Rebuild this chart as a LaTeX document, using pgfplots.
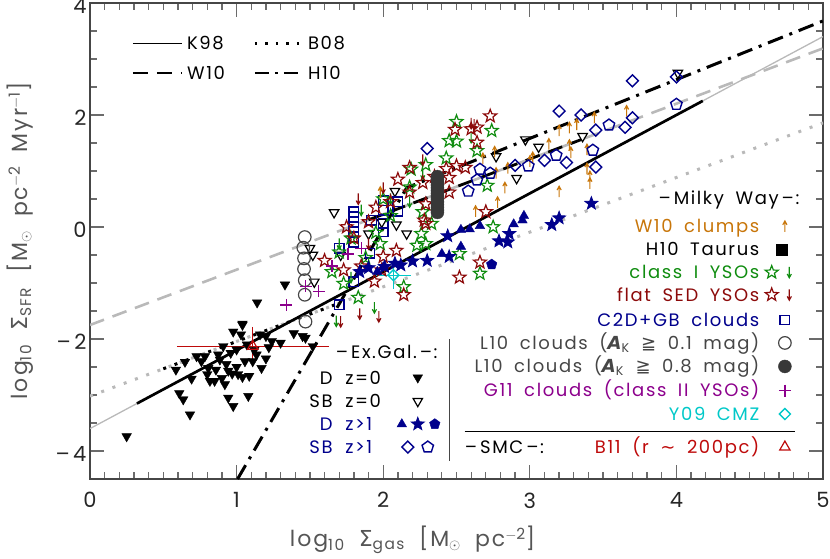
\documentclass[border=0pt]{standalone}
\usepackage{fontspec}
\setmainfont{Poppins}[LetterSpace=9, WordSpace=1.8]
\newfontfamily\dejavu{DejaVu Sans}
\usepackage{pgfplots}
\pgfplotsset{compat=1.18}
\definecolor{worange}{RGB}{200,118,10}
\definecolor{cgreen}{RGB}{15,140,15}
\definecolor{fred}{RGB}{140,10,10}
\definecolor{navy}{RGB}{0,0,140}
\definecolor{lgray}{RGB}{70,70,70}
\definecolor{gpurp}{RGB}{140,0,140}
\definecolor{ycyan}{RGB}{0,200,200}
\definecolor{bred}{RGB}{190,10,10}
\definecolor{fitgray}{RGB}{185,185,185}
\definecolor{axgray}{RGB}{70,70,70}
\definecolor{lblgray}{RGB}{85,85,85}
\newcommand{\lgf}{\fontsize{18}{21}\selectfont}
\newcommand{\tkf}{\fontsize{21}{24}\selectfont}
\newcommand{\lbf}{\fontsize{22}{25}\selectfont}
\pgfdeclareplotmark{ostar}{%
 \pgfpathmoveto{\pgfpointpolar{90}{\pgfplotmarksize}}%
 \pgfpathlineto{\pgfpointpolar{126}{0.42\pgfplotmarksize}}%
 \pgfpathlineto{\pgfpointpolar{162}{\pgfplotmarksize}}%
 \pgfpathlineto{\pgfpointpolar{198}{0.42\pgfplotmarksize}}%
 \pgfpathlineto{\pgfpointpolar{234}{\pgfplotmarksize}}%
 \pgfpathlineto{\pgfpointpolar{270}{0.42\pgfplotmarksize}}%
 \pgfpathlineto{\pgfpointpolar{306}{\pgfplotmarksize}}%
 \pgfpathlineto{\pgfpointpolar{342}{0.42\pgfplotmarksize}}%
 \pgfpathlineto{\pgfpointpolar{18}{\pgfplotmarksize}}%
 \pgfpathlineto{\pgfpointpolar{54}{0.42\pgfplotmarksize}}%
 \pgfpathclose\pgfusepathqstroke}
\pgfdeclareplotmark{fstar}{%
 \pgfpathmoveto{\pgfpointpolar{90}{\pgfplotmarksize}}%
 \pgfpathlineto{\pgfpointpolar{126}{0.42\pgfplotmarksize}}%
 \pgfpathlineto{\pgfpointpolar{162}{\pgfplotmarksize}}%
 \pgfpathlineto{\pgfpointpolar{198}{0.42\pgfplotmarksize}}%
 \pgfpathlineto{\pgfpointpolar{234}{\pgfplotmarksize}}%
 \pgfpathlineto{\pgfpointpolar{270}{0.42\pgfplotmarksize}}%
 \pgfpathlineto{\pgfpointpolar{306}{\pgfplotmarksize}}%
 \pgfpathlineto{\pgfpointpolar{342}{0.42\pgfplotmarksize}}%
 \pgfpathlineto{\pgfpointpolar{18}{\pgfplotmarksize}}%
 \pgfpathlineto{\pgfpointpolar{54}{0.42\pgfplotmarksize}}%
 \pgfpathclose\pgfusepathqfillstroke}
\pgfdeclareplotmark{uarr}{%
 \pgfpathmoveto{\pgfqpoint{0pt}{-\pgfplotmarksize}}%
 \pgfpathlineto{\pgfqpoint{0pt}{\pgfplotmarksize}}%
 \pgfpathmoveto{\pgfqpoint{-0.38\pgfplotmarksize}{0.3\pgfplotmarksize}}%
 \pgfpathlineto{\pgfqpoint{0pt}{\pgfplotmarksize}}%
 \pgfpathlineto{\pgfqpoint{0.38\pgfplotmarksize}{0.3\pgfplotmarksize}}%
 \pgfusepathqstroke}
\pgfdeclareplotmark{darr}{%
 \pgfpathmoveto{\pgfqpoint{0pt}{\pgfplotmarksize}}%
 \pgfpathlineto{\pgfqpoint{0pt}{-\pgfplotmarksize}}%
 \pgfpathmoveto{\pgfqpoint{-0.38\pgfplotmarksize}{-0.3\pgfplotmarksize}}%
 \pgfpathlineto{\pgfqpoint{0pt}{-\pgfplotmarksize}}%
 \pgfpathlineto{\pgfqpoint{0.38\pgfplotmarksize}{-0.3\pgfplotmarksize}}%
 \pgfusepathqstroke}
\pgfplotsset{
 dzt/.style={only marks, mark=triangle*, mark size=5.5pt, black, mark options={rotate=180}},
 sbt/.style={only marks, mark=triangle, mark size=5.5pt, black, mark options={rotate=180, line width=1.2pt}},
 nvt/.style={only marks, mark=triangle*, mark size=5.5pt, navy, mark options={fill=navy}},
 nvs/.style={only marks, mark=fstar, mark size=6.8pt, navy, mark options={fill=navy, line width=0.8pt}},
 nvp/.style={only marks, mark=pentagon*, mark size=5.5pt, navy, mark options={fill=navy}},
 nvd/.style={only marks, mark=square, mark size=4.2pt, navy, mark options={rotate=45, line width=1.4pt}},
 nvpo/.style={only marks, mark=pentagon, mark size=6pt, navy, mark options={line width=1.4pt}},
 wua/.style={only marks, mark=uarr, mark size=5.5pt, worange, mark options={line width=1.1pt}},
 gst/.style={only marks, mark=ostar, mark size=6.8pt, cgreen, mark options={line width=1.2pt}},
 gda/.style={only marks, mark=darr, mark size=5.5pt, cgreen, mark options={line width=1.1pt}},
 rst/.style={only marks, mark=ostar, mark size=6.8pt, fred, mark options={line width=1.2pt}},
 rda/.style={only marks, mark=darr, mark size=5.5pt, fred, mark options={line width=1.1pt}},
 gpl/.style={only marks, mark=+, mark size=6pt, gpurp, mark options={line width=1.4pt}},
 csq/.style={only marks, mark=square, mark size=4.8pt, navy, mark options={line width=1.3pt}},
 lco/.style={only marks, mark=o, mark size=6.3pt, lgray, mark options={line width=1.2pt}},
 lcf/.style={only marks, mark=*, mark size=6.5pt, lgray!80!black, mark options={fill=lgray!80!black}},
}
\begin{document}
\begin{tikzpicture}
\begin{axis}[
 scale only axis, width=733pt, height=476pt,
 xmin=0, xmax=5, ymin=-4.5, ymax=4,
 xtick={0,1,2,3,4,5}, xticklabels={0,1,2,3,4,5},
 ytick={-4,-2,0,2,4}, yticklabels={--\,4,--\,2,0,2,\raisebox{-7pt}{4}},
 minor x tick num=9, minor y tick num=3,
 tick align=inside,
 major tick length=14pt, minor tick length=7pt,
 axis line style={color=axgray, line width=1.3pt},
 every tick/.style={color=axgray!80, line width=1.3pt},
 tick label style={font=\tkf, text=black!85},
 xticklabel style={yshift=-10pt},
 yticklabel style={yshift=-3pt},
 /pgf/number format/assume math mode=true,
 xlabel={log\textsubscript{10} {\dejavu Σ}\textsubscript{gas} [M$_\odot$ pc\textsuperscript{$-$2}]},
 ylabel={log\textsubscript{10} {\dejavu Σ}\textsubscript{SFR} [M$_\odot$ pc\textsuperscript{$-$2} Myr\textsuperscript{$-$1}]},
 label style={font=\lbf, text=lblgray},
 x label style={at={(axis description cs:0.44,-0.128)}, anchor=center},
 y label style={at={(axis description cs:-0.0955,0.5)}, anchor=center},
]
\coordinate (BL) at (rel axis cs:0,0);
\coordinate (TR) at (rel axis cs:1,1);
% fit lines
\addplot[no marks, fitgray, line width=1.3pt] coordinates {(0,-3.6)(5,3.4)};
\addplot[no marks, fitgray, line width=3pt, dash pattern=on 3pt off 9pt] coordinates {(0,-3.02)(5,1.86)};
\addplot[no marks, fitgray, line width=2.6pt, dash pattern=on 15pt off 9pt] coordinates {(0,-1.75)(5,3.19)};
\addplot[no marks, black, line width=2.7pt] coordinates {(0.32,-3.152)(4.18,2.252)};
\addplot[no marks, black, line width=3pt, dash pattern=on 3pt off 9pt] coordinates {(0.5,-2.532)(1.7,-1.361)};
\addplot[no marks, black, line width=2.8pt, dash pattern=on 15pt off 9pt] coordinates {(1.9,0.127)(3.35,1.560)};
\addplot[no marks, black, line width=3pt, dash pattern=on 16pt off 7pt on 3pt off 7pt] coordinates {(1.0067,-4.5)(2.16,0.70)(5,3.68)};
% Ex.Gal. D z=0
\addplot[dzt] coordinates {(0.25,-3.74)(0.586,-2.55)(0.648,-2.41)(0.693,-2.71)(0.609,-2.97)(0.636,-3.08)(0.682,-3.35)(0.727,-2.31)(0.784,-2.31)(0.807,-2.52)(0.875,-2.28)(0.886,-2.37)(0.859,-2.55)(0.818,-2.75)(0.85,-2.75)(0.909,-2.13)(0.943,-2.57)(0.92,-2.81)(0.90,-2.70)(0.943,-3.05)(0.977,-3.2)(0.977,-1.87)(1.04,-1.75)(1.03,-1.92)(1.0,-2.19)(1.07,-2.1)(1.01,-2.63)(1.04,-2.68)(1.086,-2.66)(1.08,-3.02)(1.057,-2.40)(1.11,-2.40)(1.136,-2.28)(1.17,-2.52)(1.16,-1.92)(1.2,-1.95)(1.22,-2.15)(1.14,-1.35)(1.33,-1.03)(1.24,-2.04)(1.30,-2.07)(1.39,-1.90)(1.47,-1.98)(1.52,-2.13)(0.96,-2.25)(1.12,-2.2)(0.93,-2.45)(1.0,-2.5)(0.97,-2.62)(1.2,-2.35)(0.8,-2.63)(0.76,-2.4)(1.45,-1.95)(1.04,-1.73)};
\addplot[sbt] coordinates {(1.665,0.26)(1.50,-0.38)(1.52,-0.50)(1.53,-0.98)(1.71,-0.50)(1.90,-0.12)(1.99,0.09)(2.08,0.64)(2.16,-0.12)(2.09,0.04)(2.77,1.26)(2.97,1.56)(2.91,0.87)(3.06,1.43)(3.36,1.62)(4.01,2.75)};
% Milky Way
\addplot[lco] coordinates {(1.465,-0.18)(1.455,-0.37)(1.46,-0.56)(1.46,-0.75)(1.465,-0.95)(1.465,-1.21)(1.47,-1.69)};
\addplot[csq] coordinates {(1.80,0.27)(1.80,0.18)(1.80,0.09)(1.80,0.0)(1.80,-0.09)(1.80,-0.18)(1.80,-0.27)(2.0,0.47)(2.0,0.30)(2.1,0.45)(2.1,0.28)(1.92,0.12)(2.0,0.06)(2.0,-0.09)(1.70,-0.38)(1.91,-0.47)(1.80,-0.98)(1.70,-1.39)};
\addplot[gst] coordinates {(2.50,1.88)(2.50,1.53)(2.45,1.54)(2.74,1.72)(2.64,1.36)(2.29,1.11)(2.43,1.23)(2.71,0.74)(2.75,0.0)(2.26,-0.12)(2.27,0.27)(2.33,0.06)(2.23,-0.33)(2.19,1.03)(2.18,0.71)(1.98,-0.3)(2.52,-0.48)(2.66,-0.83)(1.65,-0.8)(1.83,-1.26)(1.73,-1.01)(2.05,0.2)(1.95,-0.1)(1.88,-0.55)(2.14,-1.07)(1.7,-0.45)(2.29,-0.3)(1.78,-0.2)(2.0,0.5)};
\addplot[gda] coordinates {(1.94,-1.44)(1.68,-1.68)(2.05,0.5)(1.85,0.3)(2.18,0.45)(2.27,0.95)(1.7,-0.3)(2.6,1.6)(1.78,-0.9)};
\addplot[rst] coordinates {(2.73,1.98)(2.49,1.74)(2.64,1.78)(2.64,1.51)(2.18,1.06)(2.27,0.79)(2.43,1.04)(2.50,1.09)(2.56,1.06)(2.45,0.88)(2.45,0.62)(2.70,0.27)(2.29,0.06)(2.18,0.62)(2.09,-0.42)(2.28,0.12)(1.90,0.09)(2.52,-0.90)(2.66,-0.63)(1.73,-0.77)(1.94,-0.97)(1.99,-0.77)(2.0,-0.53)(2.29,0.41)(2.14,-1.21)(1.75,0.0)(1.8,-0.2)(1.95,0.35)(2.05,0.45)(2.35,0.9)(2.1,0.85)(1.6,-0.6)(1.85,-0.7)(2.6,1.75)};
\addplot[rda] coordinates {(1.83,0.5)(1.84,-1.55)(1.97,-1.6)(1.71,-1.69)(2.62,1.83)(2.27,1.2)(2.6,1.85)(2.0,0.7)(1.9,-0.3)};
\addplot[gpl] coordinates {(1.34,-1.39)(1.47,-1.06)(1.56,-1.15)(1.65,-0.70)(1.76,-0.48)(1.85,-0.38)};
\addplot[lcf] coordinates {(2.37,0.90)(2.37,0.85)(2.37,0.80)(2.37,0.75)(2.37,0.70)(2.37,0.65)(2.37,0.60)(2.37,0.55)(2.37,0.50)(2.37,0.45)(2.37,0.40)(2.37,0.35)(2.37,0.30)(2.37,0.26)};
\addplot[wua] coordinates {(3.2,1.72)(3.27,1.77)(3.32,1.83)(3.44,1.95)(3.66,2.07)(3.13,1.48)(3.27,1.46)(3.02,1.24)(3.39,1.38)(3.39,1.04)(3.41,0.90)(3.20,0.63)(2.83,0.70)(2.76,1.34)(2.68,1.22)(2.77,0.96)(2.78,0.44)(2.63,0.28)(3.0,1.17)(1.98,0.62)(3.28,1.33)(3.41,0.78)(2.85,1.05)};
% Ex.Gal. z>1
\addplot[nvt] coordinates {(2.53,-0.05)(2.59,-0.04)(2.66,0.02)(2.89,0.05)(2.96,0.20)(2.95,0.12)(2.40,-0.48)(2.53,-0.35)(2.0,-0.72)(1.96,-0.80)};
\addplot[nvs] coordinates {(2.44,-0.16)(2.30,-0.60)(2.20,-0.61)(2.45,-0.53)(2.79,-0.25)(2.85,-0.27)(2.86,-0.12)(3.15,0.04)(3.20,0.16)(3.42,0.42)(2.08,-0.65)(2.01,-0.71)(1.84,-0.80)(2.12,-0.68)(1.90,-0.73)};
\addplot[nvp] coordinates {(2.74,-0.67)};
\addplot[nvd] coordinates {(2.30,1.40)(2.90,1.10)(3.10,1.19)(3.25,1.15)(3.20,2.07)(3.35,2.0)(3.45,1.73)(3.70,2.61)(3.70,1.95)(3.65,1.78)(4.0,2.68)(3.45,1.07)};
\addplot[nvpo] coordinates {(2.58,0.64)(2.64,0.84)(2.73,0.96)(2.66,1.03)(2.99,1.09)(3.18,1.28)(3.43,1.37)(3.54,1.82)(4.0,2.19)};
% Y09 CMZ
\addplot[only marks, mark=square, mark size=3.9pt, ycyan, mark options={rotate=45, line width=1.3pt},
 error bars/.cd, x dir=both, x explicit, y dir=both, y explicit,
 error bar style={line width=1.3pt, ycyan}, error mark options={mark size=4pt, line width=1.3pt, ycyan}]
 coordinates {(2.07,-0.86) +- (0.09,0.17)};
% B11 SMC
\addplot[only marks, mark=triangle, mark size=6pt, bred, mark options={line width=1.2pt},
 error bars/.cd, x dir=both, x explicit, y dir=both, y explicit,
 error bar style={line width=1.3pt, bred}, error mark options={mark size=4pt, line width=1.3pt, bred}]
 coordinates {(1.11,-2.13) +- (0.49,0.275)};
% top-left legend
\draw[black, line width=1.4pt] (axis cs:0.293,3.28) -- (axis cs:0.627,3.28);
\node[anchor=base west, inner sep=0, font=\lgf] at (axis cs:0.661,3.165) {K98};
\draw[black, line width=2.5pt, dash pattern=on 2.5pt off 8pt] (axis cs:1.125,3.28) -- (axis cs:1.431,3.28);
\node[anchor=base west, inner sep=0, font=\lgf] at (axis cs:1.486,3.165) {B08};
\draw[black, line width=2.6pt, dash pattern=on 15pt off 9pt] (axis cs:0.293,2.75) -- (axis cs:0.627,2.75);
\node[anchor=base west, inner sep=0, font=\lgf] at (axis cs:0.661,2.635) {W10};
\draw[black, line width=2.6pt, dash pattern=on 14pt off 6pt on 3pt off 6pt] (axis cs:1.125,2.75) -- (axis cs:1.431,2.75);
\node[anchor=base west, inner sep=0, font=\lgf] at (axis cs:1.486,2.635) {H10};
% right legend
\node[anchor=base east, inner sep=0, font=\lgf] at (axis cs:4.84,0.395) {--\,Milky Way\,--:};
\node[anchor=base east, inner sep=0, font=\lgf, text=worange] at (axis cs:4.567,-0.105) {W10 clumps};
\addplot[wua] coordinates {(4.74,0.01)};
\node[anchor=base east, inner sep=0, font=\lgf] at (axis cs:4.567,-0.515) {H10 Taurus};
\addplot[only marks, mark=square*, mark size=5.5pt, black] coordinates {(4.72,-0.40)};
\node[anchor=base east, inner sep=0, font=\lgf, text=cgreen] at (axis cs:4.567,-0.925) {class I YSOs};
\addplot[gst] coordinates {(4.65,-0.81)};
\addplot[gda] coordinates {(4.77,-0.81)};
\node[anchor=base east, inner sep=0, font=\lgf, text=fred] at (axis cs:4.567,-1.325) {flat SED YSOs};
\addplot[rst] coordinates {(4.65,-1.21)};
\addplot[rda] coordinates {(4.77,-1.21)};
\node[anchor=base east, inner sep=0, font=\lgf, text=navy] at (axis cs:4.567,-1.775) {C2D+GB clouds};
\addplot[csq] coordinates {(4.74,-1.66)};
\node[anchor=base east, inner sep=0, font=\lgf, text=lgray] at (axis cs:4.567,-2.185) {L10 clouds ({\dejavu\bfseries\itshape A}\textsubscript{K} {\dejavu ≧} 0.1 mag)};
\addplot[lco] coordinates {(4.74,-2.07)};
\node[anchor=base east, inner sep=0, font=\lgf, text=lgray] at (axis cs:4.567,-2.605) {L10 clouds ({\dejavu\bfseries\itshape A}\textsubscript{K} {\dejavu ≧} 0.8 mag)};
\addplot[lcf] coordinates {(4.74,-2.49)};
\node[anchor=base east, inner sep=0, font=\lgf, text=gpurp] at (axis cs:4.567,-3.035) {G11 clouds (class II YSOs)};
\addplot[gpl] coordinates {(4.74,-2.92)};
\node[anchor=base east, inner sep=0, font=\lgf, text=ycyan] at (axis cs:4.567,-3.455) {Y09 CMZ};
\addplot[only marks, mark=square, mark size=3.9pt, ycyan, mark options={rotate=45, line width=1.3pt}] coordinates {(4.74,-3.34)};
\draw[black, line width=1.2pt] (axis cs:2.556,-3.65) -- (axis cs:4.806,-3.65);
\node[anchor=base west, inner sep=0, font=\lgf] at (axis cs:2.556,-4.045) {--\,SMC\,--:};
\node[anchor=base east, inner sep=0, font=\lgf, text=bred] at (axis cs:4.567,-4.045) {B11 (r {\dejavu ∼} 200pc)};
\addplot[only marks, mark=triangle, mark size=6pt, bred, mark options={line width=1.2pt}] coordinates {(4.74,-3.93)};
% Ex.Gal legend
\draw[lgray, line width=1.2pt] (axis cs:2.454,-2.0) -- (axis cs:2.454,-4.18);
\node[anchor=base east, inner sep=0, font=\lgf] at (axis cs:2.372,-2.345) {--\,Ex.Gal.\,--:};
\node[anchor=base east, inner sep=0, font=\lgf] at (axis cs:1.656,-2.805) {D};
\node[anchor=base west, inner sep=0, font=\lgf] at (axis cs:1.74,-2.805) {z=0};
\addplot[dzt] coordinates {(2.236,-2.69)};
\node[anchor=base east, inner sep=0, font=\lgf] at (axis cs:1.656,-3.225) {SB};
\node[anchor=base west, inner sep=0, font=\lgf] at (axis cs:1.74,-3.225) {z=0};
\addplot[sbt] coordinates {(2.236,-3.11)};
\node[anchor=base east, inner sep=0, font=\lgf, text=navy] at (axis cs:1.656,-3.635) {D};
\node[anchor=base west, inner sep=0, font=\lgf, text=navy] at (axis cs:1.74,-3.635) {z>1};
\addplot[nvt] coordinates {(2.127,-3.52)};
\addplot[nvs] coordinates {(2.236,-3.52)};
\addplot[nvp] coordinates {(2.352,-3.52)};
\node[anchor=base east, inner sep=0, font=\lgf, text=navy] at (axis cs:1.656,-4.045) {SB};
\node[anchor=base west, inner sep=0, font=\lgf, text=navy] at (axis cs:1.74,-4.045) {z>1};
\addplot[nvd] coordinates {(2.168,-3.93)};
\addplot[nvpo] coordinates {(2.304,-3.93)};
\end{axis}
\pgfresetboundingbox
\path ([xshift=-90pt,yshift=-79pt]BL) rectangle ([xshift=7pt,yshift=3pt]TR);
\end{tikzpicture}
\end{document}
